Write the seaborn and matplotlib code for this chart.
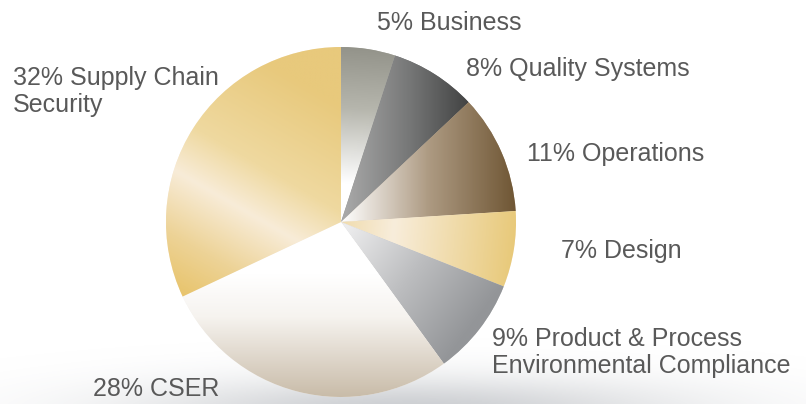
import numpy as np
import matplotlib
matplotlib.use("Agg")
import matplotlib.pyplot as plt
from matplotlib.colors import LinearSegmentedColormap, to_rgb
import seaborn as sns

# Share of work by area (percent)
categories = [
    "Business",
    "Quality Systems",
    "Operations",
    "Design",
    "Product & Process\nEnvironmental Compliance",
    "CSER",
    "Supply Chain\nSecurity",
]
shares = [5, 8, 11, 7, 9, 28, 32]

sns.set_style("white")
plt.rcParams["font.family"] = ["Liberation Sans", "DejaVu Sans"]

W, H = 806, 404
CX, CY, R = 341, 222, 175  # pie centre and radius in pixels

fig = plt.figure(figsize=(W / 100, H / 100), dpi=100)
ax = fig.add_axes([0, 0, 1, 1])
ax.set_xlim(-CX / R, (W - CX) / R)
ax.set_ylim(-(H - CY) / R, CY / R)
ax.axis("off")


def px(x, y):
    """Pixel position (origin top-left) to data coordinates."""
    return (x - CX) / R, (CY - y) / R


# soft grey shadow beneath the pie
sx = np.linspace(-CX / R, (W - CX) / R, 600)
sy = np.linspace(-(H - CY) / R, -0.6, 120)
SX, SY = np.meshgrid(sx, sy)
c0 = px(410, 412)
d2 = ((SX - c0[0]) / 1.9) ** 2 + ((SY - c0[1]) / 0.24) ** 2
shadow = np.zeros(SX.shape + (4,))
shadow[..., :3] = (0.55, 0.57, 0.60)
shadow[..., 3] = 0.45 * np.exp(-1.5 * d2)
ax.imshow(shadow, extent=(sx[0], sx[-1], sy[0], sy[-1]), origin="lower",
          aspect="auto", zorder=0, interpolation="bilinear")

# linear gradient fills: (start point, end point, colour stops)
gradients = [
    ((0.06, 1.0), (0.02, 0.22), [(0, "#93938a"), (0.45, "#b6b6ad"), (1, "#ffffff")]),
    ((0.02, 0.0), (0.76, 0.0), [(0, "#a8a8a8"), (0.5, "#767777"), (1, "#3d3e3e")]),
    ((0.0, 0.0), (1.0, 0.0), [(0, "#ffffff"), (0.5, "#ad9a82"), (1, "#6f5634")]),
    ((0.0, 0.0), (1.0, -0.1), [(0, "#f0dcae"), (0.3, "#f8eddb"), (1, "#e8c979")]),
    ((0.02, -0.05), (0.75, -0.6), [(0, "#ececed"), (0.5, "#bcbdbf"), (1, "#939598")]),
    ((0.0, -0.3), (0.0, -1.0), [(0, "#ffffff"), (0.35, "#f6f3ef"), (1, "#c9bca9")]),
    ((-0.9, -0.435), (-0.2, 0.78), [(0, "#e8c46c"), (0.2, "#edd397"), (0.43, "#f8ecd8"),
                                    (0.62, "#efd9a0"), (1, "#e8c97c")]),
]

base_colors = [stops[len(stops) // 2][1] for _, _, stops in gradients]
wedges, _ = ax.pie(shares, startangle=90, counterclock=False, radius=1,
                   colors=base_colors, wedgeprops=dict(linewidth=0))

gx = np.linspace(-1.02, 1.02, 500)
GX, GY = np.meshgrid(gx, gx)
for wedge, (p0, p1, stops) in zip(wedges, gradients):
    dx, dy = p1[0] - p0[0], p1[1] - p0[1]
    t = ((GX - p0[0]) * dx + (GY - p0[1]) * dy) / (dx * dx + dy * dy)
    cmap = LinearSegmentedColormap.from_list("g", [(p, to_rgb(c)) for p, c in stops])
    rgb = cmap(np.clip(t, 0, 1))
    im = ax.imshow(rgb, extent=(gx[0], gx[-1], gx[0], gx[-1]), origin="lower",
                   interpolation="bilinear", zorder=2)
    im.set_clip_path(wedge)

# labels (left x, baseline of last line) in pixels
label_pos = [(377, 30), (466, 76), (527, 161), (561, 258), (492, 373), (93, 396), (13, 112)]
for name, v, (lx, ly) in zip(categories, shares, label_pos):
    x, y = px(lx, ly)
    ax.text(x, y, f"{v}% {name}", ha="left", va="baseline", fontsize=18,
            color="#595959", linespacing=1.18, zorder=5)

ax.set_xlim(-CX / R, (W - CX) / R)
ax.set_ylim(-(H - CY) / R, CY / R)
ax.set_aspect("auto")
fig.savefig("out.png", dpi=100, facecolor="white")
